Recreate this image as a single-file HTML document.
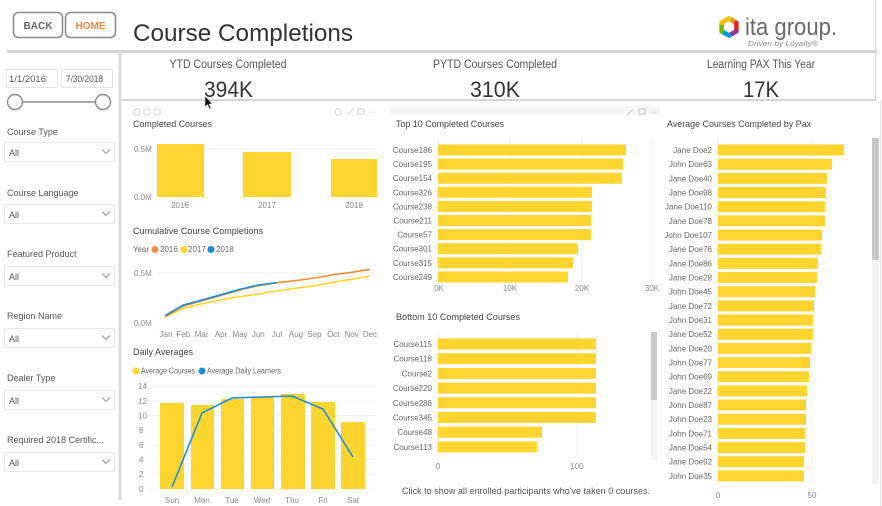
<!DOCTYPE html>
<html><head><meta charset="utf-8">
<style>
html,body{margin:0;padding:0;background:#fff;}
body{width:882px;height:506px;overflow:hidden;}
svg{display:block;font-family:"Liberation Sans",Arial,sans-serif;}
.t{fill:#444;font-size:9px;}
.ax{fill:#888;font-size:8px;}
.lb{fill:#666;font-size:8px;}
.sb{fill:#555;font-size:9px;}
</style></head>
<body>
<svg width="882" height="506" viewBox="0 0 882 506" xmlns="http://www.w3.org/2000/svg">
<rect width="882" height="506" fill="#fff"/>

<!-- Header buttons -->
<rect x="13.5" y="12.5" width="49" height="25" rx="5" fill="#fff" stroke="#8a8a8a" stroke-width="1.5"/>
<text x="38" y="29" text-anchor="middle" font-size="10" font-weight="bold" fill="#666">BACK</text>
<rect x="65.5" y="12.5" width="50" height="25" rx="5" fill="#fff" stroke="#8a8a8a" stroke-width="1.5"/>
<text x="90.5" y="29" text-anchor="middle" font-size="10" font-weight="bold" fill="#F0883A">HOME</text>
<text x="133" y="41" font-size="24" fill="#333" textLength="220" lengthAdjust="spacingAndGlyphs">Course Completions</text>

<!-- Logo -->
<g stroke-width="4.5" fill="none" stroke-linecap="round">
<line x1="729" y1="18.5" x2="736.4" y2="22.75" stroke="#F39200"/>
<line x1="736.4" y1="22.75" x2="736.4" y2="31.25" stroke="#E2231A"/>
<line x1="736.4" y1="31.25" x2="729" y2="35.5" stroke="#8E3A8E"/>
<line x1="729" y1="35.5" x2="721.6" y2="31.25" stroke="#0098D8"/>
<line x1="721.6" y1="31.25" x2="721.6" y2="22.75" stroke="#7AB800"/>
<line x1="721.6" y1="22.75" x2="729" y2="18.5" stroke="#F6C100"/>
</g>
<text x="745" y="35" font-size="24" fill="#6a6a6a" textLength="92" lengthAdjust="spacingAndGlyphs">ita group.</text>
<text x="748" y="46" font-size="7.5" font-style="italic" fill="#8a8a8a" textLength="70" lengthAdjust="spacingAndGlyphs">Driven by Loyalty®</text>

<!-- Structural lines -->
<rect x="7" y="50" width="870" height="3" fill="#d4d4d4"/>
<rect x="118.5" y="53" width="3" height="447" fill="#dcdcdc"/>
<rect x="122" y="99" width="754" height="2" fill="#d4d4d4"/>
<rect x="875" y="0" width="1" height="100" fill="#d8d8d8"/>
<rect x="880" y="100" width="1" height="406" fill="#e0e0e0"/>

<!-- Sidebar: dates & slider -->
<rect x="6.5" y="69.5" width="51" height="18" fill="#fff" stroke="#e6e6e6"/>
<text x="9" y="82" class="sb" textLength="37" lengthAdjust="spacingAndGlyphs">1/1/2016</text>
<rect x="61.5" y="69.5" width="51" height="18" fill="#fff" stroke="#e6e6e6"/>
<text x="66" y="82" class="sb" textLength="37" lengthAdjust="spacingAndGlyphs">7/30/2018</text>
<line x1="22" y1="102" x2="96" y2="102" stroke="#777" stroke-width="1.2"/>
<circle cx="15" cy="102" r="7.5" fill="#fff" stroke="#888" stroke-width="1.4"/>
<circle cx="103" cy="102" r="7.5" fill="#fff" stroke="#888" stroke-width="1.4"/>

<!-- Sidebar slicers -->
<g>
<text x="7" y="135" class="sb">Course Type</text>
<rect x="4.5" y="142.5" width="110" height="19" fill="#fff" stroke="#e8e8e8"/>
<text x="9" y="156" class="sb" fill="#333">All</text>
<polyline points="102,149.5 106,153.5 110,149.5" fill="none" stroke="#888" stroke-width="0.9"/>

<text x="7" y="196" class="sb">Course Language</text>
<rect x="4.5" y="204.5" width="110" height="19" fill="#fff" stroke="#e8e8e8"/>
<text x="9" y="218" class="sb" fill="#333">All</text>
<polyline points="102,211.5 106,215.5 110,211.5" fill="none" stroke="#888" stroke-width="0.9"/>

<text x="7" y="257" class="sb">Featured Product</text>
<rect x="4.5" y="266.5" width="110" height="19" fill="#fff" stroke="#e8e8e8"/>
<text x="9" y="280" class="sb" fill="#333">All</text>
<polyline points="102,273.5 106,277.5 110,273.5" fill="none" stroke="#888" stroke-width="0.9"/>

<text x="7" y="319" class="sb">Region Name</text>
<rect x="4.5" y="328.5" width="110" height="19" fill="#fff" stroke="#e8e8e8"/>
<text x="9" y="342" class="sb" fill="#333">All</text>
<polyline points="102,335.5 106,339.5 110,335.5" fill="none" stroke="#888" stroke-width="0.9"/>

<text x="7" y="381" class="sb">Dealer Type</text>
<rect x="4.5" y="390.5" width="110" height="19" fill="#fff" stroke="#e8e8e8"/>
<text x="9" y="404" class="sb" fill="#333">All</text>
<polyline points="102,397.5 106,401.5 110,397.5" fill="none" stroke="#888" stroke-width="0.9"/>

<text x="7" y="443" class="sb">Required 2018 Certific...</text>
<rect x="4.5" y="452.5" width="110" height="19" fill="#fff" stroke="#e8e8e8"/>
<text x="9" y="466" class="sb" fill="#333">All</text>
<polyline points="102,459.5 106,463.5 110,459.5" fill="none" stroke="#888" stroke-width="0.9"/>
</g>

<!-- KPIs -->
<text x="228" y="68" text-anchor="middle" font-size="11.5" fill="#555" textLength="117" lengthAdjust="spacingAndGlyphs">YTD Courses Completed</text>
<text x="228.5" y="97" text-anchor="middle" font-size="22" fill="#333" textLength="49" lengthAdjust="spacingAndGlyphs">394K</text>
<text x="495" y="68" text-anchor="middle" font-size="11.5" fill="#555" textLength="124" lengthAdjust="spacingAndGlyphs">PYTD Courses Completed</text>
<text x="495" y="97" text-anchor="middle" font-size="22" fill="#333" textLength="50" lengthAdjust="spacingAndGlyphs">310K</text>
<text x="761" y="68" text-anchor="middle" font-size="11.5" fill="#555" textLength="108" lengthAdjust="spacingAndGlyphs">Learning PAX This Year</text>
<text x="761" y="97" text-anchor="middle" font-size="22" fill="#333" textLength="36" lengthAdjust="spacingAndGlyphs">17K</text>

<!-- cursor -->
<polygon points="205,96 205,107 207.5,104.5 209.5,109 211,108.3 209,104 212.5,104" fill="#111" stroke="#fff" stroke-width="0.5"/>

<!-- Col1 icons -->
<g fill="none" stroke="#c8c8c8" stroke-width="0.8">
<circle cx="137" cy="112" r="3.2"/><circle cx="147" cy="112" r="3.2"/><circle cx="157" cy="112" r="3.2"/>
<circle cx="338" cy="112" r="3.2"/>
<line x1="347" y1="115" x2="353" y2="109"/>
<rect x="358" y="109" width="6" height="5"/>
</g>
<text x="369" y="114" font-size="7" fill="#aaa">···</text>

<!-- Completed Courses -->
<text x="133" y="127" class="t" textLength="79" lengthAdjust="spacingAndGlyphs">Completed Courses</text>
<line x1="155" y1="149" x2="378" y2="149" stroke="#eee" stroke-width="1"/>
<text x="134" y="152" class="ax">0.5M</text>
<text x="134" y="200" class="ax">0.0M</text>
<rect x="157" y="144" width="47" height="53" fill="#FDD52E"/>
<rect x="243" y="152" width="48" height="45" fill="#FDD52E"/>
<rect x="331" y="159" width="46" height="38" fill="#FDD52E"/>
<text x="180" y="208" class="ax" text-anchor="middle">2016</text>
<text x="267" y="208" class="ax" text-anchor="middle">2017</text>
<text x="354" y="208" class="ax" text-anchor="middle">2018</text>

<!-- Cumulative -->
<text x="133" y="234" class="t" textLength="130" lengthAdjust="spacingAndGlyphs">Cumulative Course Completions</text>
<text x="133" y="252" class="lb" font-size="7">Year</text>
<circle cx="155" cy="249.5" r="3.5" fill="#F28E3D"/>
<text x="160" y="252" class="lb" font-size="7.5">2016</text>
<circle cx="184" cy="249.5" r="3.5" fill="#FDD52E"/>
<text x="188" y="252" class="lb" font-size="7.5">2017</text>
<circle cx="211" cy="249.5" r="3.5" fill="#1F8DD6"/>
<text x="216" y="252" class="lb" font-size="7.5">2018</text>
<line x1="158" y1="273" x2="374" y2="273" stroke="#eee"/>
<text x="134" y="276" class="ax">0.5M</text>
<text x="134" y="326" class="ax">0.0M</text>
<polyline fill="none" stroke="#FDD52E" stroke-width="1.6" points="165,317.3 183.3,308.3 201.7,304 220,300 240,296.7 258.3,294 276.7,291 295,288.3 315,285.7 333.3,282.3 351.7,279.3 370,276"/>
<polyline fill="none" stroke="#F28E3D" stroke-width="1.6" points="165,316.7 183.3,306 201.7,301 220,295.7 240,290 258.3,285.7 276.7,282.7 295,280.7 315,278 333.3,274.7 351.7,272.3 370,269.3"/>
<polyline fill="none" stroke="#1F8DD6" stroke-width="1.6" points="165,315.7 183.3,305 201.7,300 220,295 240,289.3 258.3,285 276.7,282.7"/>
<g class="ax" text-anchor="middle" font-size="7.5">
<text x="166" y="337">Jan</text><text x="183.3" y="337">Feb</text><text x="201.7" y="337">Mar</text><text x="221" y="337">Apr</text><text x="240" y="337">May</text><text x="258.3" y="337">Jun</text><text x="277" y="337">Jul</text><text x="296" y="337">Aug</text><text x="314.5" y="337">Sep</text><text x="333.3" y="337">Oct</text><text x="351.7" y="337">Nov</text><text x="370" y="337">Dec</text>
</g>

<!-- Daily Averages -->
<text x="133" y="355" class="t" textLength="60" lengthAdjust="spacingAndGlyphs">Daily Averages</text>
<circle cx="136" cy="371" r="3.5" fill="#FDD52E"/>
<text x="141" y="373.5" class="lb" font-size="7" textLength="54" lengthAdjust="spacingAndGlyphs">Average Courses</text>
<circle cx="202" cy="371" r="3.5" fill="#1F8DD6"/>
<text x="207" y="373.5" class="lb" font-size="7" textLength="74" lengthAdjust="spacingAndGlyphs">Average Daily Learners</text>
<g stroke="#f0f0f0">
<line x1="150" y1="386" x2="375" y2="386"/><line x1="150" y1="401" x2="375" y2="401"/><line x1="150" y1="415.5" x2="375" y2="415.5"/><line x1="150" y1="430" x2="375" y2="430"/><line x1="150" y1="445" x2="375" y2="445"/><line x1="150" y1="459.5" x2="375" y2="459.5"/><line x1="150" y1="474" x2="375" y2="474"/><line x1="150" y1="489" x2="375" y2="489"/>
</g>
<g class="ax">
<text x="138" y="389">14</text><text x="138" y="404">12</text><text x="138" y="418.5">10</text><text x="139" y="433">8</text><text x="139" y="448">6</text><text x="139" y="462.5">4</text><text x="139" y="477">2</text><text x="139" y="492">0</text>
</g>
<g fill="#FDD52E">
<rect x="160" y="403" width="24" height="86"/>
<rect x="191" y="405" width="23" height="84"/>
<rect x="221" y="399" width="23" height="90"/>
<rect x="251" y="397" width="23" height="92"/>
<rect x="281" y="394" width="24" height="95"/>
<rect x="311" y="402" width="24" height="87"/>
<rect x="341" y="422" width="24" height="67"/>
</g>
<polyline fill="none" stroke="#1F8DD6" stroke-width="1.6" points="172,487 202,413 232,398 262,397 292,396 323,409 353,457"/>
<g class="ax" text-anchor="middle">
<text x="172" y="503">Sun</text><text x="202" y="503">Mon</text><text x="232" y="503">Tue</text><text x="262" y="503">Wed</text><text x="292" y="503">Thu</text><text x="323" y="503">Fri</text><text x="353" y="503">Sat</text>
</g>

<!-- Col 2 header band/icons -->
<rect x="390" y="106" width="270" height="9" fill="#f6f6f9"/>
<g fill="none" stroke="#bbb" stroke-width="0.8">
<line x1="627" y1="115" x2="633" y2="109"/>
<rect x="639" y="109" width="6" height="5"/>
</g>
<text x="650" y="114" font-size="7" fill="#aaa">···</text>

<!-- Top 10 -->
<text x="396" y="127" class="t" textLength="108" lengthAdjust="spacingAndGlyphs">Top 10 Completed Courses</text>
<g stroke="#f0f0f0">
<line x1="438" y1="138" x2="438" y2="283"/><line x1="510" y1="138" x2="510" y2="283"/><line x1="582" y1="138" x2="582" y2="283"/><line x1="652" y1="138" x2="652" y2="283"/>
</g>
<g fill="#FDD52E">
<rect x="438" y="144.5" width="188" height="11"/>
<rect x="438" y="158.6" width="185" height="11"/>
<rect x="438" y="172.7" width="184" height="11"/>
<rect x="438" y="186.8" width="154" height="11"/>
<rect x="438" y="200.9" width="154" height="11"/>
<rect x="438" y="215" width="153" height="11"/>
<rect x="438" y="229.1" width="153" height="11"/>
<rect x="438" y="243.2" width="140" height="11"/>
<rect x="438" y="257.3" width="135" height="11"/>
<rect x="438" y="271.4" width="130" height="11"/>
</g>
<g class="lb" text-anchor="end">
<text x="432" y="153">Course186</text><text x="432" y="167.1">Course195</text><text x="432" y="181.2">Course154</text><text x="432" y="195.3">Course326</text><text x="432" y="209.4">Course238</text><text x="432" y="223.5">Course211</text><text x="432" y="237.6">Course57</text><text x="432" y="251.7">Course301</text><text x="432" y="265.8">Course315</text><text x="432" y="279.9">Course249</text>
</g>
<g class="ax" text-anchor="middle">
<text x="439" y="291">0K</text><text x="510" y="291">10K</text><text x="582" y="291">20K</text><text x="652" y="291">30K</text>
</g>

<!-- Bottom 10 -->
<text x="396" y="320" class="t" textLength="124" lengthAdjust="spacingAndGlyphs">Bottom 10 Completed Courses</text>
<g stroke="#f0f0f0">
<line x1="438" y1="332" x2="438" y2="456"/><line x1="577" y1="332" x2="577" y2="456"/>
</g>
<g fill="#FDD52E">
<rect x="438" y="338.5" width="158" height="11"/>
<rect x="438" y="353.2" width="158" height="11"/>
<rect x="438" y="367.9" width="158" height="11"/>
<rect x="438" y="382.6" width="158" height="11"/>
<rect x="438" y="397.3" width="158" height="11"/>
<rect x="438" y="412" width="158" height="11"/>
<rect x="438" y="426.7" width="104" height="11"/>
<rect x="438" y="441.4" width="99" height="11"/>
</g>
<g class="lb" text-anchor="end">
<text x="432" y="347">Course115</text><text x="432" y="361.7">Course118</text><text x="432" y="376.4">Course2</text><text x="432" y="391.1">Course220</text><text x="432" y="405.8">Course286</text><text x="432" y="420.5">Course345</text><text x="432" y="435.2">Course48</text><text x="432" y="449.9">Course113</text>
</g>
<rect x="651" y="332" width="6" height="128" fill="#f4f4f4"/>
<rect x="651" y="332" width="6" height="68" fill="#c8c8c8"/>
<g class="ax" text-anchor="middle">
<text x="438" y="469">0</text><text x="577" y="469">100</text>
</g>
<text x="402" y="494" font-size="9.5" fill="#555" textLength="248" lengthAdjust="spacingAndGlyphs">Click to show all enrolled participants who've taken 0 courses.</text>

<!-- Pax -->
<text x="667" y="127" class="t" textLength="144" lengthAdjust="spacingAndGlyphs">Average Courses Completed by Pax</text>
<g stroke="#f0f0f0">
<line x1="718" y1="138" x2="718" y2="485"/><line x1="812" y1="138" x2="812" y2="485"/>
</g>
<g fill="#FDD52E">
<rect x="718" y="144.5" width="126" height="11"/>
<rect x="718" y="158.67" width="114" height="11"/>
<rect x="718" y="172.84" width="109" height="11"/>
<rect x="718" y="187.01" width="108" height="11"/>
<rect x="718" y="201.18" width="107" height="11"/>
<rect x="718" y="215.35" width="107" height="11"/>
<rect x="718" y="229.52" width="104" height="11"/>
<rect x="718" y="243.69" width="103" height="11"/>
<rect x="718" y="257.86" width="100" height="11"/>
<rect x="718" y="272.03" width="99" height="11"/>
<rect x="718" y="286.2" width="97" height="11"/>
<rect x="718" y="300.37" width="96" height="11"/>
<rect x="718" y="314.54" width="95" height="11"/>
<rect x="718" y="328.71" width="95" height="11"/>
<rect x="718" y="342.88" width="93" height="11"/>
<rect x="718" y="357.05" width="92" height="11"/>
<rect x="718" y="371.22" width="91" height="11"/>
<rect x="718" y="385.39" width="89" height="11"/>
<rect x="718" y="399.56" width="88" height="11"/>
<rect x="718" y="413.73" width="88" height="11"/>
<rect x="718" y="427.9" width="87" height="11"/>
<rect x="718" y="442.07" width="87" height="11"/>
<rect x="718" y="456.24" width="86" height="11"/>
<rect x="718" y="470.41" width="86" height="11"/>
</g>
<g class="lb" text-anchor="end">
<text x="712" y="153">Jane Doe2</text>
<text x="712" y="167.17">John Doe63</text>
<text x="712" y="181.34">Jane Doe40</text>
<text x="712" y="195.51">Jane Doe98</text>
<text x="712" y="209.68">Jane Doe110</text>
<text x="712" y="223.85">Jane Doe78</text>
<text x="712" y="238.02">John Doe107</text>
<text x="712" y="252.19">Jane Doe76</text>
<text x="712" y="266.36">Jane Doe86</text>
<text x="712" y="280.53">Jane Doe28</text>
<text x="712" y="294.7">John Doe45</text>
<text x="712" y="308.87">Jane Doe72</text>
<text x="712" y="323.04">John Doe31</text>
<text x="712" y="337.21">Jane Doe52</text>
<text x="712" y="351.38">Jane Doe20</text>
<text x="712" y="365.55">John Doe77</text>
<text x="712" y="379.72">John Doe69</text>
<text x="712" y="393.89">Jane Doe22</text>
<text x="712" y="408.06">John Doe87</text>
<text x="712" y="422.23">John Doe23</text>
<text x="712" y="436.4">John Doe71</text>
<text x="712" y="450.57">Jane Doe54</text>
<text x="712" y="464.74">Jane Doe92</text>
<text x="712" y="478.91">John Doe35</text>
</g>
<rect x="872" y="138" width="7" height="347" fill="#f4f4f4"/>
<rect x="872" y="138" width="7" height="122" fill="#c8c8c8"/>
<g class="ax" text-anchor="middle">
<text x="718" y="498">0</text><text x="812" y="498">50</text>
</g>
</svg>
</body></html>
